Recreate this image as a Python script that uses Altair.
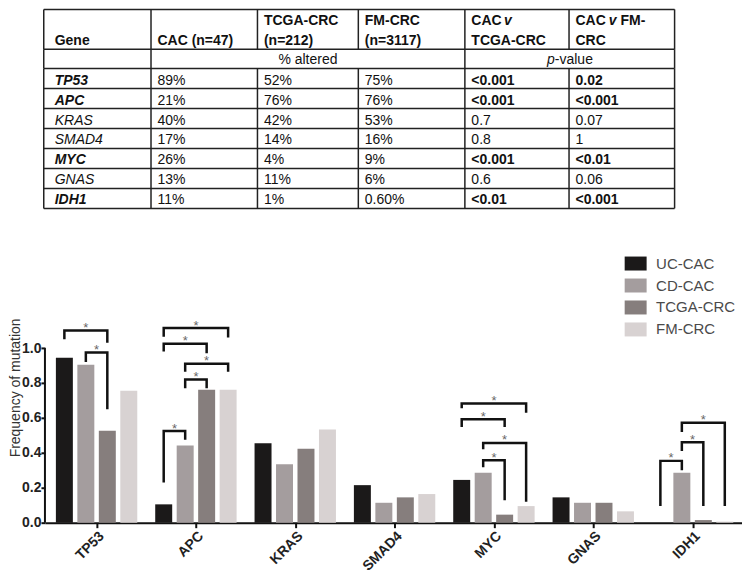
import altair as alt
import pandas as pd

# ---------------- data ----------------
genes = ["TP53", "APC", "KRAS", "SMAD4", "MYC", "GNAS", "IDH1"]
groups = ["UC-CAC", "CD-CAC", "TCGA-CRC", "FM-CRC"]
colors = ["#1b1919", "#a49d9e", "#867e7d", "#d8d2d2"]

uc_cac = [0.945, 0.105, 0.455, 0.215, 0.245, 0.145, 0.0]
cd_cac = [0.905, 0.442, 0.334, 0.114, 0.286, 0.114, 0.286]
tcga_crc = [0.526, 0.762, 0.423, 0.145, 0.046, 0.114, 0.015]
fm_crc = [0.755, 0.762, 0.534, 0.164, 0.095, 0.065, 0.006]

# significance brackets: gene, from group, to group, top, left-leg end, right-leg end
br_gene = ["TP53", "TP53", "APC", "APC", "APC", "APC", "APC",
           "MYC", "MYC", "MYC", "MYC", "IDH1", "IDH1", "IDH1"]
br_from = ["UC-CAC", "CD-CAC", "UC-CAC", "UC-CAC", "CD-CAC", "CD-CAC", "UC-CAC",
           "UC-CAC", "UC-CAC", "CD-CAC", "CD-CAC", "UC-CAC", "CD-CAC", "CD-CAC"]
br_to = ["TCGA-CRC", "TCGA-CRC", "FM-CRC", "TCGA-CRC", "FM-CRC", "TCGA-CRC", "CD-CAC",
         "FM-CRC", "TCGA-CRC", "FM-CRC", "TCGA-CRC", "CD-CAC", "TCGA-CRC", "FM-CRC"]
br_top = [1.10, 0.975, 1.115, 1.025, 0.91, 0.82, 0.525,
          0.683, 0.593, 0.457, 0.358, 0.354, 0.46, 0.573]
br_left = [1.05, 0.92, 1.065, 0.98, 0.865, 0.77, 0.23,
           0.655, 0.548, 0.42, 0.318, 0.095, 0.41, 0.52]
br_right = [1.03, 0.65, 1.06, 0.97, 0.865, 0.77, 0.475,
            0.63, 0.548, 0.12, 0.128, 0.30, 0.095, 0.095]

# table content
tbl_header = ["Gene", "CAC (n=47)", "TCGA-CRC", "(n=212)", "FM-CRC", "(n=3117)",
              "CAC ", "v", "TCGA-CRC", "CAC ", "v", "FM-", "CRC"]
tbl_pct_cac = ["89%", "21%", "40%", "17%", "26%", "13%", "11%"]
tbl_pct_tcga = ["52%", "76%", "42%", "14%", "4%", "11%", "1%"]
tbl_pct_fm = ["75%", "76%", "53%", "16%", "9%", "6%", "0.60%"]
tbl_p_tcga = ["<0.001", "<0.001", "0.7", "0.8", "<0.001", "0.6", "<0.01"]
tbl_p_fm = ["0.02", "<0.001", "0.07", "1", "<0.01", "0.06", "<0.001"]
tbl_gene_bold = [True, True, False, False, True, False, True]
tbl_p_bold = [True, True, False, False, True, False, True]

# ---------------- layout ----------------
origin_x = 44.5          # expected left edge of the plot area on the page
PW, PH = 698, 271

# ---------------- table ----------------
col_edges = [0, 107.4, 214, 315, 421.7, 526, 631.7]
row_edges = [0, 40, 59.3] + [59.3 + 20 * (i + 1) for i in range(7)]
pad = [11, 6.5, 6.5, 6.5, 6.5, 6.5]
line1, line2, subline = 15.7, 35.7, 55

cells = []
def add(x, y, t, s):
    cells.append({"x": x, "y": y, "text": t, "style": s})

add(col_edges[0] + pad[0], line2, tbl_header[0], "b")
add(col_edges[1] + pad[1], line2, tbl_header[1], "b")
add(col_edges[2] + pad[2], line1, tbl_header[2], "b")
add(col_edges[2] + pad[2], line2, tbl_header[3], "b")
add(col_edges[3] + pad[3], line1, tbl_header[4], "b")
add(col_edges[3] + pad[3], line2, tbl_header[5], "b")
add(col_edges[4] + pad[4], line1, tbl_header[6], "b")
add(col_edges[4] + pad[4] + 32.6, line1, tbl_header[7], "bi")
add(col_edges[4] + pad[4], line2, tbl_header[8], "b")
add(col_edges[5] + pad[5], line1, tbl_header[9], "b")
add(col_edges[5] + pad[5] + 33.3, line1, tbl_header[10], "bi")
add(col_edges[5] + pad[5] + 45, line1, tbl_header[11], "b")
add(col_edges[5] + pad[5], line2, tbl_header[12], "b")
add(235, subline, "% altered", "r")
add(504, subline, "p", "i")
add(511.8, subline, "-value", "r")
for r, g in enumerate(genes):
    yb = row_edges[r + 2] + 16
    add(col_edges[0] + pad[0], yb, g, "bi" if tbl_gene_bold[r] else "i")
    add(col_edges[1] + pad[1], yb, tbl_pct_cac[r], "r")
    add(col_edges[2] + pad[2], yb, tbl_pct_tcga[r], "r")
    add(col_edges[3] + pad[3], yb, tbl_pct_fm[r], "r")
    add(col_edges[4] + pad[4], yb, tbl_p_tcga[r], "b" if tbl_p_bold[r] else "r")
    add(col_edges[5] + pad[5], yb, tbl_p_fm[r], "b" if tbl_p_bold[r] else "r")
cells_df = pd.DataFrame(cells)

hl = pd.DataFrame({"y": row_edges, "x1": [col_edges[0]] * len(row_edges),
                   "x2": [col_edges[-1]] * len(row_edges)})
vl_rows = []
for x in col_edges:
    vl_rows.append({"x": x, "y1": row_edges[0], "y2": row_edges[1]})
    vl_rows.append({"x": x, "y1": row_edges[2], "y2": row_edges[-1]})
for x in [col_edges[0], col_edges[1], col_edges[4], col_edges[6]]:
    vl_rows.append({"x": x, "y1": row_edges[1], "y2": row_edges[2]})
vl = pd.DataFrame(vl_rows)

TW, TH = 636, 200
t0 = origin_x - 43.3
tx = alt.Scale(domain=[t0, t0 + TW], nice=False, zero=False)
ty = alt.Scale(domain=[0, TH], nice=False, zero=False, reverse=True)

t_h = alt.Chart(hl).mark_rule(color="#222", strokeWidth=1.5).encode(
    x=alt.X("x1:Q", scale=tx, axis=None), x2="x2:Q",
    y=alt.Y("y:Q", scale=ty, axis=None))
t_v = alt.Chart(vl).mark_rule(color="#222", strokeWidth=1.5).encode(
    x=alt.X("x:Q", scale=tx, axis=None),
    y=alt.Y("y1:Q", scale=ty, axis=None), y2="y2:Q")

styles = {"r": ("normal", "normal"), "b": ("bold", "normal"),
          "i": ("normal", "italic"), "bi": ("bold", "italic")}
t_layers = []
for s, (w, fs) in styles.items():
    t_layers.append(
        alt.Chart(cells_df).transform_filter(alt.datum.style == s).mark_text(
            align="left", baseline="alphabetic", fontSize=14, fontWeight=w,
            fontStyle=fs, color="#111", font="Liberation Sans").encode(
            x=alt.X("x:Q", scale=tx, axis=None),
            y=alt.Y("y:Q", scale=ty, axis=None), text="text:N"))
table = alt.layer(t_h, t_v, *t_layers).properties(width=TW, height=TH)

# ---------------- bar chart ----------------
gstep = 99.47
gfirst = 96.2
bstep = 21.5 / gstep
xs = alt.Scale(domain=[(origin_x - gfirst) / gstep, (origin_x + PW - gfirst) / gstep],
               nice=False, zero=False, padding=0)
ys = alt.Scale(domain=[0, 1.55], nice=False, zero=True)

def gpos(g, grp):
    return genes.index(g) + (groups.index(grp) - 1.5) * bstep

rows = []
for grp, vals in zip(groups, [uc_cac, cd_cac, tcga_crc, fm_crc]):
    for g, v in zip(genes, vals):
        rows.append({"gene": g, "group": grp, "value": v, "pos": gpos(g, grp)})
bars_df = pd.DataFrame(rows)

br_rows, star_rows = [], []
for i in range(len(br_gene)):
    xl = gpos(br_gene[i], br_from[i])
    xr = gpos(br_gene[i], br_to[i])
    pts = [(xl, br_left[i]), (xl, br_top[i]), (xr, br_top[i]), (xr, br_right[i])]
    for k, (px, py) in enumerate(pts):
        br_rows.append({"id": i, "k": k, "px": px, "py": py})
    star_rows.append({"px": (xl + xr) / 2, "py": br_top[i], "t": "*"})
br_df = pd.DataFrame(br_rows)
star_df = pd.DataFrame(star_rows)

label_expr = "[" + ",".join("'%s'" % g for g in genes) + "][datum.value]"

bars = alt.Chart(bars_df).mark_bar(width=17).encode(
    x=alt.X("pos:Q", scale=xs, title=None,
            axis=alt.Axis(values=list(range(len(genes))), labelExpr=label_expr,
                          labelAngle=-45, labelAlign="right", labelBaseline="top",
                          labelFontSize=14, labelFontWeight="bold", labelColor="#222",
                          labelPadding=1, tickSize=5, tickWidth=2, tickColor="#111",
                          domainColor="#111", domainWidth=2, grid=False)),
    y=alt.Y("value:Q", scale=ys, title="Frequency of mutation",
            axis=alt.Axis(values=[0, 0.2, 0.4, 0.6, 0.8, 1.0], format=".1f", domain=False,
                          tickSize=4, tickWidth=2, tickColor="#111", labelFontSize=14,
                          labelFontWeight="bold", labelColor="#222", labelPadding=0,
                          titleFontSize=14, titleFontWeight="normal", titleColor="#333",
                          titlePadding=-1, grid=False)),
    color=alt.Color("group:N", scale=alt.Scale(domain=groups, range=colors),
                    legend=alt.Legend(title=None, orient="none", legendX=584, legendY=247,
                                      symbolType="M-1.57,-1H1.57V1H-1.57Z", symbolSize=196,
                                      symbolStrokeWidth=0, symbolOpacity=1,
                                      labelFontSize=15, labelColor="#4a4a4a", labelOffset=13,
                                      rowPadding=6, padding=0, labelFont="Liberation Sans")),
)

yaxis_df = pd.DataFrame({"y0": [0.0], "y1": [1.0]})
yline = alt.Chart(yaxis_df).mark_rule(color="#111", strokeWidth=2).encode(
    x=alt.value(0), y=alt.Y("y0:Q", scale=ys), y2="y1:Q")

brackets = alt.Chart(br_df).mark_line(color="#111", strokeWidth=2.5, strokeJoin="miter",
                                      strokeCap="butt").encode(
    x=alt.X("px:Q", scale=xs), y=alt.Y("py:Q", scale=ys), detail="id:N", order="k:Q")

stars = alt.Chart(star_df).mark_text(fontSize=13, color="#666", baseline="alphabetic",
                                     dy=1.5).encode(
    x=alt.X("px:Q", scale=xs), y=alt.Y("py:Q", scale=ys), text="t:N")

barchart = alt.layer(bars, yline, brackets, stars).properties(width=PW, height=PH)

chart = alt.vconcat(table, barchart, spacing=42).properties(padding=0).configure(
    font="Liberation Sans").configure_view(stroke=None)

chart.save("out.html", embed_options={"renderer": "svg", "actions": False})
